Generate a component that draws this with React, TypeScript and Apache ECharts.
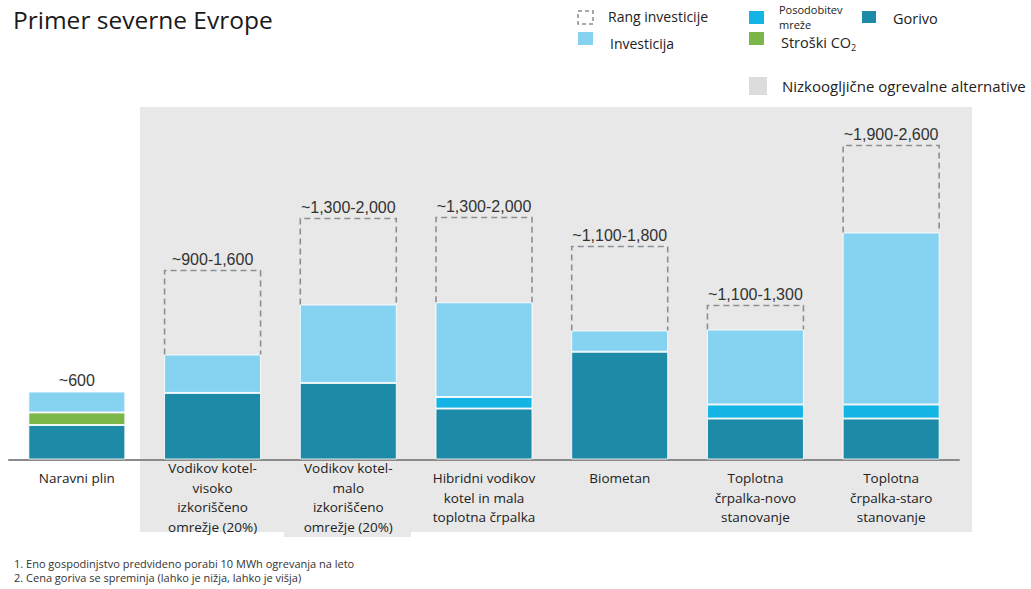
import React, { useEffect, useRef } from "react";
import * as echarts from "echarts";

const categories = [
  "Naravni plin\n\n",
  "Vodikov kotel-\nvisoko\nizkoriščeno\nomrežje (20%)",
  "Vodikov kotel-\nmalo\nizkoriščeno\nomrežje (20%)",
  "Hibridni vodikov\nkotel in mala\ntoplotna črpalka",
  "Biometan\n\n",
  "Toplotna\nčrpalka-novo\nstanovanje",
  "Toplotna\nčrpalka-staro\nstanovanje",
];
const gorivo = [290, 559, 643, 428, 905, 344, 344];
const posodobitev = [0, 0, 0, 97, 0, 118, 118];
const stroskiCO2 = [105, 0, 0, 0, 0, 0, 0];
const investicija = [176, 323, 659, 796, 179, 630, 1445];
const rangeHigh = [null, 1588, 2024, 2033, 1789, 1294, 2638];
const rangeLabels = ["~600", "~900-1,600", "~1,300-2,000", "~1,300-2,000", "~1,100-1,800", "~1,100-1,300", "~1,900-2,600"];

const C_GORIVO = "#1d8aa8";
const C_POS = "#14b4e4";
const C_CO2 = "#7ab648";
const C_INV = "#86d2f1";
const C_BG = "#e8e8e8";
const C_DASH = "#8b8e93";
const FONT = "Open Sans";

export default function App() {
  const ref = useRef<HTMLDivElement>(null);
  useEffect(() => {
    if (!ref.current) return;
    const chart = echarts.init(ref.current, null, { renderer: "svg" });
    const lows = gorivo.map((g, i) => g + posodobitev[i] + stroskiCO2[i] + investicija[i]);
    const rangeData = categories.map((_, i) => [i, lows[i], rangeHigh[i] == null ? lows[i] : rangeHigh[i]]);
    const seg = (name: string, data: number[], color: string) => ({
      name,
      type: "bar",
      stack: "s",
      data: data.map((v) => (v === 0 ? null : v)),
      barWidth: 97,
      itemStyle: { color, borderColor: "rgba(255,255,255,0.85)", borderWidth: 1 },
    });
    const legendText = (x: number, y: number, text: string, size = 14) => ({
      type: "text",
      x,
      y,
      style: { text, fontFamily: FONT, fontSize: size, fill: "#222", verticalAlign: "middle" },
    });
    const sq = (x: number, y: number, w: number, h: number, color: string) => ({
      type: "rect",
      shape: { x, y, width: w, height: h },
      style: { fill: color },
    });
    chart.setOption({
      animation: false,
      grid: { left: 9, right: 72, top: 59.5, bottom: 129.5 },
      xAxis: {
        type: "category",
        data: categories,
        axisLine: { lineStyle: { color: "#8a8a8a", width: 2 } },
        axisTick: { show: false },
        axisLabel: {
          interval: 0,
          margin: 38,
          verticalAlign: "middle",
          lineHeight: 19.5,
          fontFamily: FONT,
          fontSize: 13.5,
          color: "#222",
        },
      },
      yAxis: { type: "value", min: 0, max: 3360, show: false, splitLine: { show: false } },
      graphic: [
        { type: "rect", z: -10, shape: { x: 140, y: 107, width: 832, height: 425 }, style: { fill: C_BG } },
        { type: "rect", z: -10, shape: { x: 284, y: 530, width: 127, height: 7 }, style: { fill: C_BG } },
        {
          type: "text",
          x: 13,
          y: 19,
          style: { text: "Primer severne Evrope", fontFamily: FONT, fontSize: 24.5, fill: "#1a1a1a", verticalAlign: "middle" },
        },
        {
          type: "rect",
          shape: { x: 578, y: 11, width: 15, height: 13 },
          style: { fill: "none", stroke: C_DASH, lineWidth: 1.5, lineDash: [4, 3] },
        },
        legendText(608, 16, "Rang investicije"),
        sq(578, 32, 15, 13, C_INV),
        legendText(610, 43, "Investicija"),
        sq(749, 11, 15, 13, C_POS),
        legendText(779, 9, "Posodobitev", 11),
        legendText(779, 24, "mreže", 11),
        sq(862, 11, 14, 12, C_GORIVO),
        legendText(893, 18, "Gorivo", 14.5),
        sq(749, 32, 15, 13, C_CO2),
        legendText(781, 42, "Stroški CO", 14.5),
        legendText(851, 47, "2", 9),
        sq(749, 77, 18, 18, "#dcdcdc"),
        legendText(782, 86, "Nizkoogljične ogrevalne alternative", 15),
        {
          type: "text",
          x: 14,
          y: 563,
          style: { text: "1. Eno gospodinjstvo predvideno porabi 10 MWh ogrevanja na leto", fontFamily: FONT, fontSize: 11, fill: "#333", verticalAlign: "middle" },
        },
        {
          type: "text",
          x: 14,
          y: 577.5,
          style: { text: "2. Cena goriva se spreminja (lahko je nižja, lahko je višja)", fontFamily: FONT, fontSize: 11, fill: "#333", verticalAlign: "middle" },
        },
      ],
      series: [
        seg("Gorivo", gorivo, C_GORIVO),
        seg("Posodobitev mreže", posodobitev, C_POS),
        seg("Stroški CO2", stroskiCO2, C_CO2),
        seg("Investicija", investicija, C_INV),
        {
          name: "Rang investicije",
          type: "custom",
          z: 5,
          data: rangeData,
          encode: { x: 0, y: [1, 2] },
          renderItem: (params: any, api: any) => {
            const idx = api.value(0);
            const lo = api.value(1);
            const hi = api.value(2);
            const pLo = api.coord([idx, lo]);
            const pHi = api.coord([idx, hi]);
            const half = 97 / 2;
            const children: any[] = [];
            if (hi > lo) {
              children.push({
                type: "polyline",
                shape: {
                  points: [
                    [pLo[0] - half + 0.5, pLo[1]],
                    [pLo[0] - half + 0.5, pHi[1]],
                    [pLo[0] + half - 0.5, pHi[1]],
                    [pLo[0] + half - 0.5, pLo[1]],
                  ],
                },
                style: { fill: "none", stroke: C_DASH, lineWidth: 1.6, lineDash: [6, 4] },
              });
            }
            children.push({
              type: "text",
              x: pLo[0],
              y: pHi[1] - 11,
              style: {
                text: rangeLabels[params.dataIndex],
                fontFamily: "Liberation Sans",
                fontSize: 16,
                fill: "#333",
                align: "center",
                verticalAlign: "middle",
              },
            });
            return { type: "group", children };
          },
        },
      ],
    });
    return () => chart.dispose();
  }, []);
  return <div ref={ref} style={{ width: 1031, height: 589, position: "absolute", left: 0, top: 0 }} />;
}
